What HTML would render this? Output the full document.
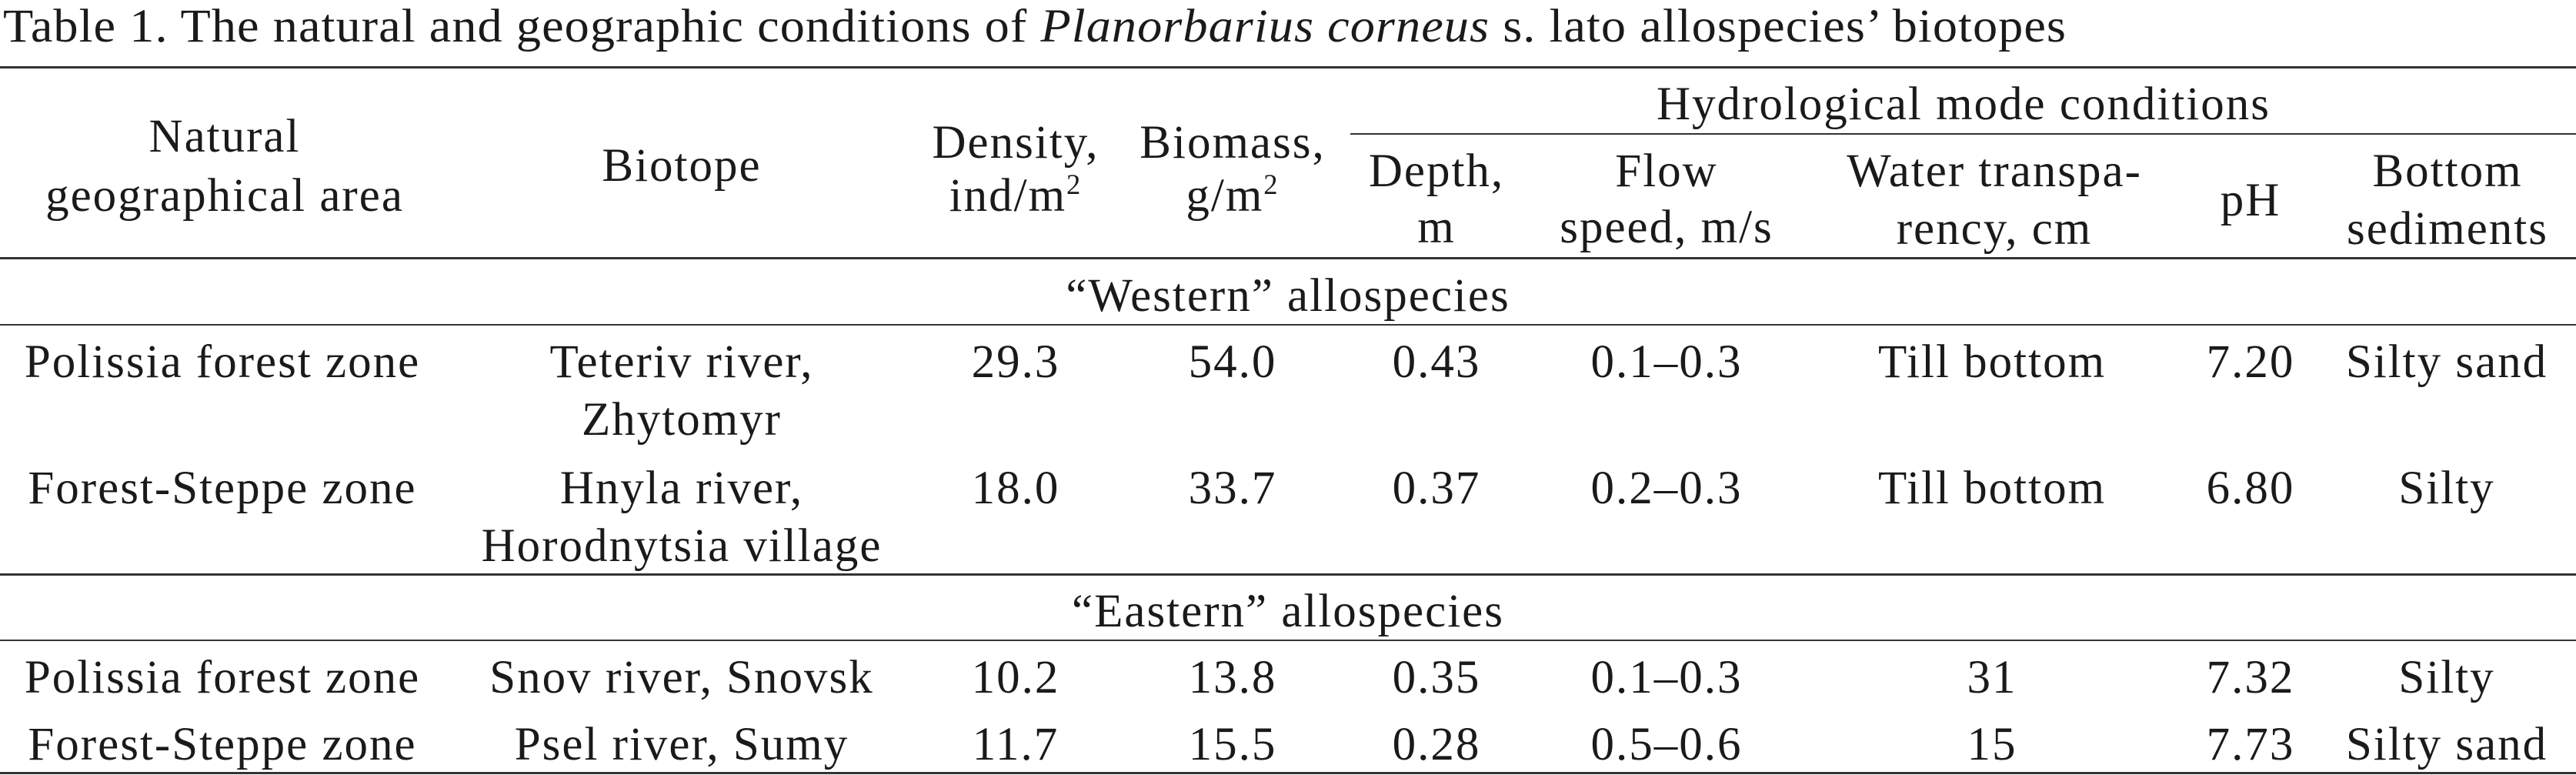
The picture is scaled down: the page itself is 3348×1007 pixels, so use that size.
<!DOCTYPE html>
<html><head><meta charset="utf-8">
<style>
html,body{margin:0;padding:0;background:#fff;}
#page{position:relative;width:3348px;height:1007px;overflow:hidden;background:#fff;font-family:"Liberation Serif",serif;color:#1a1a1a;}
.t{position:absolute;font-size:61px;line-height:1;white-space:nowrap;transform:translateX(-50%);letter-spacing:2px;}
.l{position:absolute;left:0;height:3px;background:#333;}
#title{position:absolute;left:4px;top:0;font-size:61px;white-space:nowrap;transform-origin:0 0;letter-spacing:1px;}
sup{font-size:0.6em;vertical-align:0.6em;line-height:0;}
</style></head>
<body>
<div id="page">
<div id="title">Table 1. The natural and geographic conditions of <i>Planorbarius corneus</i> s. lato allospecies’ biotopes</div>

<div class="l" style="top:86px;width:3348px"></div>
<div class="l" style="top:173px;left:1755px;width:1593px;height:2px"></div>
<div class="l" style="top:334px;width:3348px"></div>
<div class="l" style="top:421px;width:3348px;height:2px"></div>
<div class="l" style="top:745px;width:3348px"></div>
<div class="l" style="top:831px;width:3348px;height:2px"></div>
<div class="l" style="top:1003px;width:3348px"></div>

<div id="cells"></div>
</div>
<script>
// [text, centerX, baselineY, name]
const cells = [
 ["Natural",292,195,"header-area-1"],["geographical area",292,272,"header-area-2"],
 ["Biotope",886,233,"header-biotope"],
 ["Density,",1320,203,"header-density-1"],["ind/m<sup>2</sup>",1320,272,"header-density-2"],
 ["Biomass,",1602,203,"header-biomass-1"],["g/m<sup>2</sup>",1602,272,"header-biomass-2"],
 ["Hydrological mode conditions",2552,153,"header-hydrological"],
 ["Depth,",1867,240,"header-depth-1"],["m",1867,313,"header-depth-2"],
 ["Flow",2166,240,"header-flow-1"],["speed, m/s",2166,313,"header-flow-2"],
 ["Water transpa-",2592,240,"header-water-1"],["rency, cm",2592,315,"header-water-2"],
 ["pH",2925,278,"header-ph"],
 ["Bottom",3181,240,"header-bottom-1"],["sediments",3181,315,"header-bottom-2"],
 ["“Western” allospecies",1674,402,"group-western"],
 ["“Eastern” allospecies",1674,812,"group-eastern"]
];
const rows = [
 {y:488,y2:563,v:["Polissia forest zone",["Teteriv river,","Zhytomyr"],"29.3","54.0","0.43","0.1–0.3","Till bottom","7.20","Silty sand"]},
 {y:652,y2:727,v:["Forest-Steppe zone",["Hnyla river,","Horodnytsia village"],"18.0","33.7","0.37","0.2–0.3","Till bottom","6.80","Silty"]},
 {y:898,y2:0,v:["Polissia forest zone",["Snov river, Snovsk"],"10.2","13.8","0.35","0.1–0.3","31","7.32","Silty"]},
 {y:985,y2:0,v:["Forest-Steppe zone",["Psel river, Sumy"],"11.7","15.5","0.28","0.5–0.6","15","7.73","Silty sand"]}
];
const colX=[289,886,1320,1602,1867,2166,2589,2925,3180];
const colN=["area","biotope","density","biomass","depth","flow","transparency","ph","sediments"];
const host=document.getElementById('cells');
function add(txt,x,base,name){
  const s=document.createElement('span');
  s.className='t';
  s.innerHTML=txt;
  s.style.left=x+'px';
  s.style.top=(base-48)+'px';
  
  
  host.appendChild(s);
}
cells.forEach(c=>add(c[0],c[1],c[2],c[3]));
rows.forEach((r,i)=>{
  r.v.forEach((v,j)=>{
    if(Array.isArray(v)){
      add(v[0],colX[j],r.y,'row'+(i+1)+'-'+colN[j]);
      if(v[1]) add(v[1],colX[j],r.y2,'row'+(i+1)+'-'+colN[j]+'-2');
    } else add(v,colX[j],r.y,'row'+(i+1)+'-'+colN[j]);
  });
});
const t=document.getElementById('title');
const w=t.getBoundingClientRect().width;
t.style.transform='scaleX('+(2682/w)+')';
</script>
</body></html>
